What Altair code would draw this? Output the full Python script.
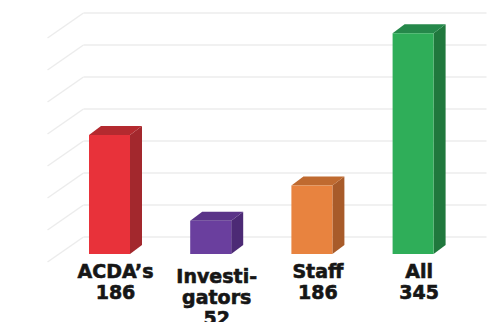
import altair as alt
import pandas as pd

# ---- data ----
categories = ["ACDA’s", "Investigators", "Staff", "All"]
values = [186, 52, 107, 345]
labels = ["ACDA’s\n186", "Investi-\ngators\n52", "Staff\n186", "All\n345"]
grid_values = [0, 50, 100, 150, 200, 250, 300, 350]

# ---- styles ----
FRONT = ["#E8323A", "#6A3F9E", "#E8833F", "#2FAE59"]
SIDE = ["#A3282D", "#4C2A75", "#A85B2A", "#20783D"]
TOP = ["#B42A2F", "#5A3488", "#BF6A30", "#25884A"]
PX_X = 101.2   # px per category step
PX_Y = 0.64    # px per value unit
BAR_W = 41 / PX_X
DX = 12 / PX_X
DY = 9 / PX_Y
WALL_X0 = -26 / PX_X
WALL_X1 = 377 / PX_X
WALL_RISE = 17 / PX_Y
FLOOR_DX = -36 / PX_X
FLOOR_DY = -25 / PX_Y
XDOM = [-109.5 / PX_X, (497 - 109.5) / PX_X]
YDOM = [-68 / PX_Y, 254 / PX_Y]

xs = alt.Scale(domain=XDOM, nice=False, zero=False)
ys = alt.Scale(domain=YDOM, nice=False, zero=False)

# tables built from the arrays
front = pd.DataFrame({
    "cat": categories,
    "x": [i - BAR_W / 2 for i in range(len(categories))],
    "x2": [i + BAR_W / 2 for i in range(len(categories))],
    "y": [0] * len(categories),
    "y2": values,
})
side_rows, top_rows = [], []
for i, (c, v) in enumerate(zip(categories, values)):
    xr = i + BAR_W / 2
    side_rows += [dict(cat=c, x=xr, y=0, y2=v),
                  dict(cat=c, x=xr + DX, y=DY, y2=v + DY)]
    top_rows += [dict(cat=c, y=v, x=i - BAR_W / 2, x2=xr),
                 dict(cat=c, y=v + DY, x=i - BAR_W / 2 + DX, x2=xr + DX)]
side = pd.DataFrame(side_rows)
top = pd.DataFrame(top_rows)
grid = pd.DataFrame({
    "g": grid_values,
    "yb": [g + WALL_RISE for g in grid_values],
    "yf": [g + WALL_RISE + FLOOR_DY for g in grid_values],
    "x0": [WALL_X0] * len(grid_values),
    "x1": [WALL_X1] * len(grid_values),
    "xf": [WALL_X0 + FLOOR_DX] * len(grid_values),
})
lab = pd.DataFrame({
    "cat": categories,
    "x": [i + DX / 2 for i in range(len(categories))],
    "y": [0] * len(categories),
    "label": labels,
})

GRID_COL = "#ececec"
back = alt.Chart(grid).mark_rule(color=GRID_COL, strokeWidth=1.5).encode(
    x=alt.X("x0:Q", scale=xs, axis=None), x2="x1:Q",
    y=alt.Y("yb:Q", scale=ys, axis=None))
diag = alt.Chart(grid).mark_rule(color=GRID_COL, strokeWidth=1.5).encode(
    x=alt.X("xf:Q", scale=xs, axis=None), x2="x0:Q",
    y=alt.Y("yf:Q", scale=ys, axis=None), y2="yb:Q")

def cscale(rng):
    return alt.Color("cat:N", scale=alt.Scale(domain=categories, range=rng), legend=None)

side_l = alt.Chart(side).mark_area(opacity=1).encode(
    x=alt.X("x:Q", scale=xs, axis=None),
    y=alt.Y("y:Q", scale=ys, axis=None), y2="y2:Q",
    color=cscale(SIDE), detail="cat:N")
top_l = alt.Chart(top).mark_area(orient="horizontal", opacity=1).encode(
    y=alt.Y("y:Q", scale=ys, axis=None),
    x=alt.X("x:Q", scale=xs, axis=None), x2="x2:Q",
    color=cscale(TOP), detail="cat:N")
front_l = alt.Chart(front).mark_rect().encode(
    x=alt.X("x:Q", scale=xs, axis=None), x2="x2:Q",
    y=alt.Y("y:Q", scale=ys, axis=None), y2="y2:Q",
    color=cscale(FRONT))

txt_kw = dict(font="DejaVu Sans", fontWeight="bold", fontSize=19, lineHeight=21,
              lineBreak="\n", align="center", baseline="alphabetic", color="#161616",
              stroke="#161616", strokeWidth=0.6)
lab2 = alt.Chart(lab).mark_text(dy=24, **txt_kw).encode(
    x=alt.X("x:Q", scale=xs, axis=None), y=alt.Y("y:Q", scale=ys, axis=None),
    text="label:N").transform_filter(alt.datum.cat != "Investigators")
lab3 = alt.Chart(lab).mark_text(dy=29, **txt_kw).encode(
    x=alt.X("x:Q", scale=xs, axis=None), y=alt.Y("y:Q", scale=ys, axis=None),
    text="label:N").transform_filter(alt.datum.cat == "Investigators")

chart = alt.layer(back, diag, side_l, top_l, front_l, lab2, lab3).resolve_scale(
    color="independent"
).properties(
    width=497, height=322, autosize=alt.AutoSizeParams(type="none"), padding=0,
    background="white"
).configure_view(stroke=None)

chart.save("out.html", embed_options={"renderer": "svg", "actions": False})
